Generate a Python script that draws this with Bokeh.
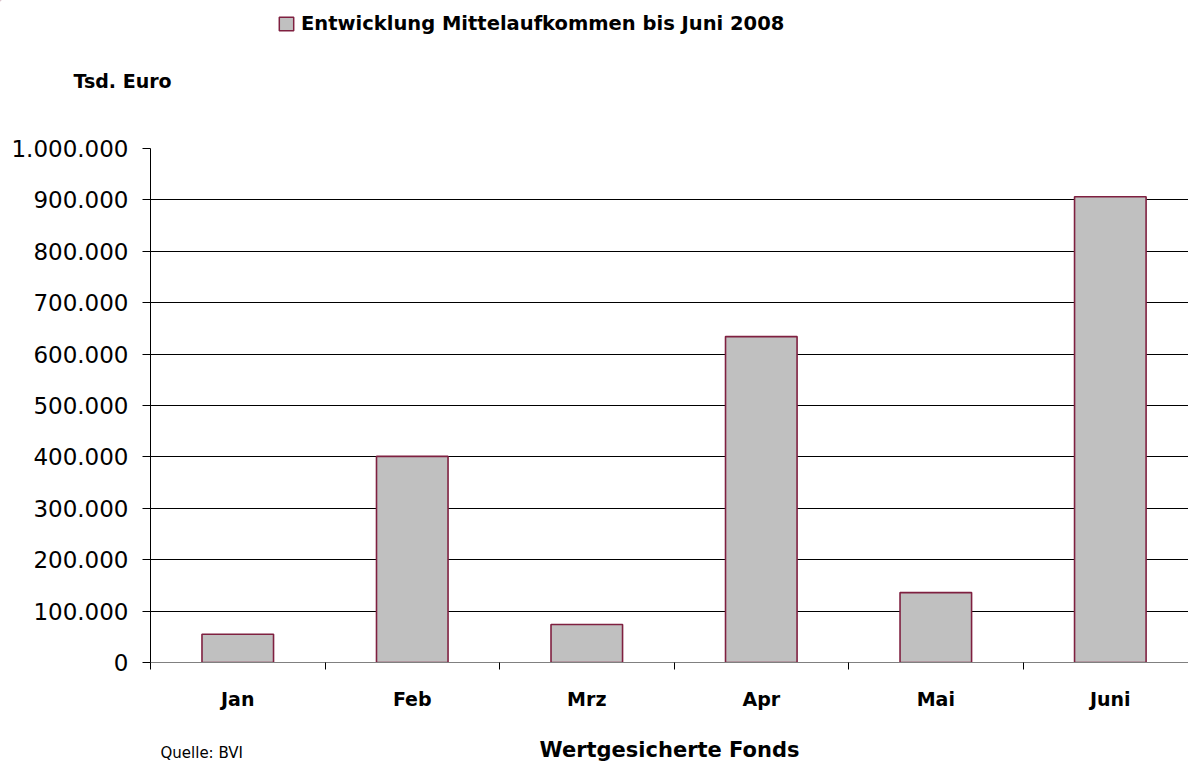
from bokeh.plotting import figure
from bokeh.models import Range1d, FixedTicker, Legend, LegendItem, ColumnDataSource
from bokeh.layouts import column
from bokeh.core.properties import value
from bokeh.embed import file_html
from bokeh.resources import INLINE

months = ["Jan", "Feb", "Mrz", "Apr", "Mai", "Juni"]
values = [55000, 401000, 74000, 634000, 136000, 906000]
y_ticks = [0, 100000, 200000, 300000, 400000, 500000, 600000, 700000, 800000, 900000, 1000000]
y_tick_labels = ["0", "100.000", "200.000", "300.000", "400.000", "500.000",
                 "600.000", "700.000", "800.000", "900.000", "1.000.000"]
series_name = "Entwicklung Mittelaufkommen bis Juni 2008"
y_title = "Tsd. Euro"
x_title = "Wertgesicherte Fonds"
source_note = "Quelle: BVI"

FONT = "DejaVu Sans"
BAR_FILL = "#C0C0C0"
BAR_LINE = "#7F2040"

W = 1188
HEADER_H = 134
MAIN_H = 581
FOOTER_H = 48

# ---------------- header: legend + unit label ----------------
header = figure(width=W, height=HEADER_H, output_backend="svg", toolbar_location=None,
                x_range=Range1d(0, W), y_range=Range1d(HEADER_H, 0),
                x_axis_location=None, y_axis_location=None, min_border=0, frame_align=False)
header.outline_line_color = None
header.xgrid.grid_line_color = None
header.ygrid.grid_line_color = None
# legend swatch source (kept outside the visible range; only its style is used by the legend)
hr = header.vbar(x=[-500], top=[-500], bottom=[-520], width=10,
                 fill_color=BAR_FILL, line_color=BAR_LINE, line_width=1.5)
legend = Legend(items=[LegendItem(label=series_name, renderers=[hr])],
                location=(277, HEADER_H - 35), orientation="horizontal",
                border_line_color=None, background_fill_alpha=0,
                padding=0, margin=0, glyph_width=18, glyph_height=17, label_height=19,
                label_text_font=FONT, label_text_font_style="bold", label_text_color="black",
                label_text_font_size="19.5px", label_standoff=6)
header.add_layout(legend, "center")
header.text(x=[73], y=[80], text=[y_title], text_font=value(FONT), text_font_style="bold",
            text_font_size="19px", text_baseline="middle", text_align="left", text_color="black")

# ---------------- main chart ----------------
xs = [i + 0.5 for i in range(len(months))]
src = ColumnDataSource(dict(x=xs, top=values, m=months))

p = figure(width=W, height=MAIN_H, output_backend="svg", toolbar_location=None,
           x_range=Range1d(0, 5.948), y_range=Range1d(0, 1000000), frame_align=False,
           min_border_left=150, min_border_right=0, min_border_top=14, min_border_bottom=53)
p.outline_line_color = None

r = p.vbar(x="x", top="top", width=0.41, source=src, fill_color=BAR_FILL,
           line_color=BAR_LINE, line_width=1.6)

p.yaxis.ticker = FixedTicker(ticks=y_ticks, minor_ticks=[])
p.yaxis.major_label_overrides = {t: l for t, l in zip(y_ticks, y_tick_labels)}
p.yaxis.major_label_text_font = FONT
p.yaxis.major_label_text_font_size = "23px"
p.yaxis.major_label_text_color = "black"
p.yaxis.major_tick_out = 8
p.yaxis.major_tick_in = 0
p.yaxis.major_label_standoff = 14
p.yaxis.axis_line_color = "black"
p.yaxis.major_tick_line_color = "black"

p.xaxis.ticker = FixedTicker(ticks=xs, minor_ticks=list(range(0, 6)))
p.xaxis.major_label_overrides = {x: m for x, m in zip(xs, months)}
p.xaxis.major_tick_out = 0
p.xaxis.major_tick_in = 0
p.xaxis.minor_tick_out = 7
p.xaxis.minor_tick_in = 0
p.xaxis.minor_tick_line_color = "black"
p.xaxis.axis_line_color = "#808080"
p.xaxis.major_label_standoff = 18
p.xaxis.major_label_text_font = FONT
p.xaxis.major_label_text_font_style = "bold"
p.xaxis.major_label_text_font_size = "19px"
p.xaxis.major_label_text_color = "black"

p.xgrid.grid_line_color = None
p.ygrid.ticker = FixedTicker(ticks=y_ticks[1:])
p.ygrid.grid_line_color = "black"
p.ygrid.grid_line_width = 1

# ---------------- footer: axis title + source ----------------
footer = figure(width=W, height=FOOTER_H, output_backend="svg", toolbar_location=None,
                x_range=Range1d(0, W), y_range=Range1d(FOOTER_H, 0),
                x_axis_location=None, y_axis_location=None, min_border=0, frame_align=False)
footer.outline_line_color = None
footer.xgrid.grid_line_color = None
footer.ygrid.grid_line_color = None
footer.text(x=[669], y=[34], text=[x_title], text_font=value(FONT), text_font_style="bold",
            text_font_size="21px", text_baseline="middle", text_align="center", text_color="black")
footer.text(x=[160], y=[37], text=[source_note], text_font=value(FONT),
            text_font_size="15px", text_baseline="middle", text_align="left", text_color="black")

layout = column(header, p, footer, spacing=0)
open("out.html", "w").write(file_html(layout, INLINE))
